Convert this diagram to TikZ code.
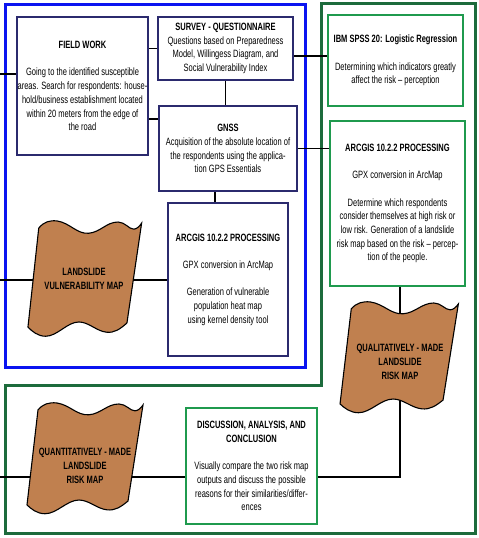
\documentclass[tikz,border=0pt]{standalone}
\usepackage{fontspec}
\setmainfont{Liberation Sans}[FakeStretch=0.71]
\definecolor{navy}{HTML}{2B2A6E}
\definecolor{frameblue}{HTML}{0A14F0}
\definecolor{framegreen}{HTML}{1D6B3C}
\definecolor{boxgreen}{HTML}{1F9A4E}
\definecolor{mapbrown}{HTML}{C0804F}
\pgfdeclarelayer{frames}
\pgfdeclarelayer{conn}
\pgfsetlayers{frames,conn,main}
\newcommand\drawmap[3]{\draw[mapshape, shift={#1}, xscale=#2, yscale=#3]
  (13,7) .. controls (18,1) and (24,-1) .. (32,0)
  .. controls (45,2) and (52,13) .. (64,12)
  .. controls (76,11) and (82,1) .. (94,1)
  .. controls (101,1) and (105,8) .. (110,8)
  .. controls (113,8) and (116,5) .. (118,2)
  -- (103,100)
  .. controls (96,106) and (90,110) .. (82,109)
  .. controls (72,108) and (64,99) .. (54,99)
  .. controls (42,99) and (32,113) .. (20,113)
  .. controls (12,113) and (6,108) .. (2,104)
  -- cycle;}
\begin{document}
\begin{tikzpicture}[x=1pt,y=-1pt,
  every node/.style={font=\fontsize{10.6}{13.7}\selectfont, align=center, inner sep=0pt},
  navybox/.style={draw=navy, line width=1.8pt, fill=white},
  greenbox/.style={draw=boxgreen, line width=1.8pt, fill=white},
  link/.style={line width=1.1pt, black},
  stub/.style={line width=2.2pt, black},
  mapshape/.style={draw=black, line width=1.1pt, fill=mapbrown},
  maptext/.style={font=\bfseries\fontsize{10.6}{13.7}\selectfont}]
\useasboundingbox (0,0) rectangle (479,538);
\begin{pgfonlayer}{frames}
\draw[frameblue, line width=3pt] (5,4) rectangle (305,367);
\draw[framegreen, line width=3pt] (321,3) -- (475,3) -- (475,533) -- (5,533) -- (5,385) -- (321,385) -- cycle;
\end{pgfonlayer}

\node[navybox, minimum width=131pt, minimum height=138pt] (fw) at (82.5,86)
 {\textbf{FIELD WORK}\\[13.7pt]Going to the identified susceptible\\areas. Search  for respondents: house-\\hold/business establishment located\\within 20 meters from the edge of\\the road};
\node[navybox, minimum width=135pt, minimum height=63pt] (sv) at (225.5,48.5)
 {\textbf{SURVEY - QUESTIONNAIRE}\\Questions based on Preparedness\\Model, Willingess Diagram, and\\Social Vulnerability Index};
\node[navybox, minimum width=138pt, minimum height=85pt] (gn) at (228,148.5)
 {\textbf{GNSS}\\Acquisition of the absolute location of\\the respondents using the applica-\\tion GPS Essentials};
\node[navybox, minimum width=120pt, minimum height=153pt] (al) at (228,279.5)
 {\textbf{ARCGIS 10.2.2 PROCESSING}\\[13.7pt]GPX conversion in ArcMap\\[13.7pt]Generation of vulnerable\\population heat map\\using kernel density tool};
\node[greenbox, minimum width=135pt, minimum height=91pt] (sp) at (395.5,60.5)
 {\textbf{IBM SPSS 20: Logistic Regression}\\[13.7pt]Determining which indicators greatly\\affect the risk -- perception};
\node[greenbox, minimum width=135pt, minimum height=165pt] (ar) at (397.5,203.5)
 {\textbf{ARCGIS 10.2.2 PROCESSING}\\[13.7pt]GPX conversion in ArcMap\\[13.7pt]Determine which respondents\\consider themselves at high risk or\\low risk. Generation of a landslide\\risk map based on the risk -- percep-\\tion of the people.};
\node[greenbox, minimum width=131pt, minimum height=116pt] (di) at (251.5,466)
 {\textbf{DISCUSSION, ANALYSIS, AND}\\\textbf{CONCLUSION}\\[13.7pt]Visually compare the two risk map\\outputs and discuss the possible\\reasons for their similarities/differ-\\ences};

\drawmap{(26,221)}{0.98}{1.02}
\node[maptext] (vm) at (84,279) {LANDSLIDE\\VULNERABILITY MAP};
\drawmap{(338,302)}{1.02}{0.98}
\node[maptext] (qm) at (400,362) {QUALITATIVELY - MADE\\LANDSLIDE\\RISK MAP};
\drawmap{(25,403)}{1.0}{0.98}
\node[maptext] (tm) at (85,466) {QUANTITATIVELY - MADE\\LANDSLIDE\\RISK MAP};

\begin{pgfonlayer}{conn}
\coordinate (lf) at (0,74);
\draw[stub] (lf) -- (lf -| fw.west);
\draw[link] (sv.west) -- (sv.west -| fw.east);
\coordinate (c2) at (0,119);
\draw[link] (c2 -| fw.east) -- (c2 -| gn.west);
\draw[link] (sv.south) -- (sv.south |- gn.north);
\coordinate (c3) at (215,0);
\draw[link] (c3 |- gn.south) -- (c3 |- al.north);
\coordinate (c1) at (0,56);
\draw[link] (c1 -| sv.east) -- (c1 -| sp.west);
\draw[link] (gn.east) -- (gn.east -| ar.west);
\coordinate (lv) at (0,280);
\draw[stub] (lv) -- (lv -| vm);
\draw[link] (lv -| vm) -- (lv -| al.west);
\draw[link] (qm |- ar.south) -- (qm);
\coordinate (c5) at (0,477);
\draw[link] (qm) -- (qm |- c5) -- (c5 -| di.east);
\draw[link] (c5) -- (c5 -| tm) -- (c5 -| di.west);
\end{pgfonlayer}
\end{tikzpicture}
\end{document}
